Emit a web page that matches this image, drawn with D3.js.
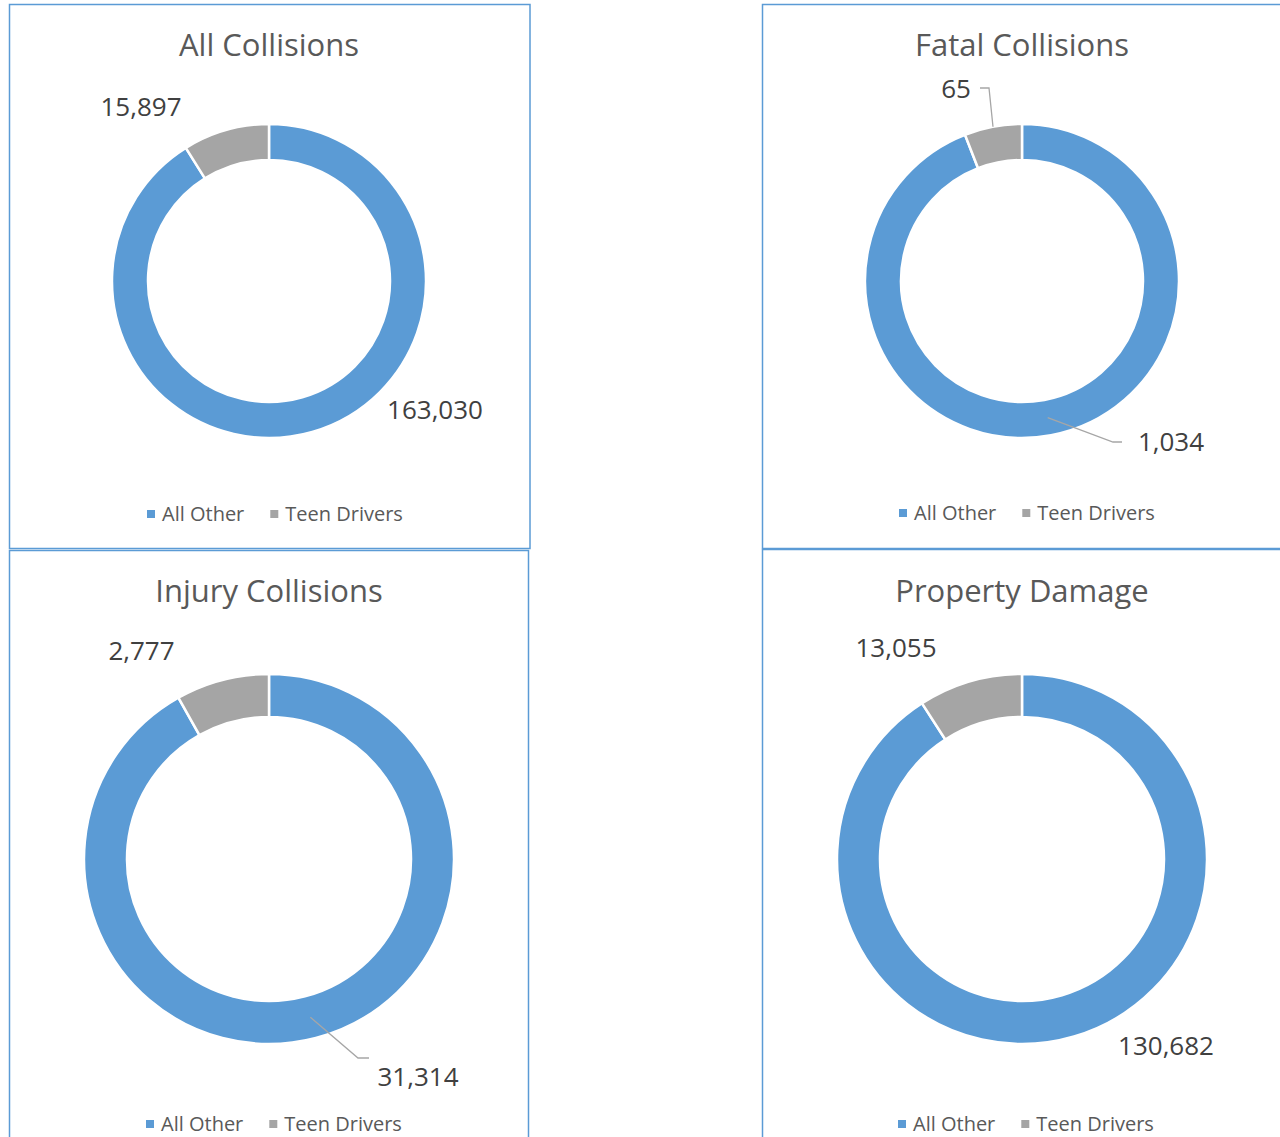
<!DOCTYPE html>
<html>
<head>
<meta charset="utf-8">
<script src="https://cdn.jsdelivr.net/npm/d3@7"></script>
<style>
    html, body { margin: 0; padding: 0; background: #fff; }
    svg { display: block; font-family: "Open Sans", sans-serif; }
    .chart-title { fill: #595959; font-size: 31px; }
    .data-label { fill: #404040; font-size: 26px; }
    .legend-text { fill: #595959; font-size: 20px; }
    .leader { fill: none; stroke: #a6a6a6; stroke-width: 1.3; }
</style>
</head>
<body>
<div id="chart"></div>
<script>
// data
var chartTitles = ["All Collisions", "Fatal Collisions", "Injury Collisions", "Property Damage"];
var categories = ["All Other", "Teen Drivers"];
var allOther = [163030, 1034, 31314, 130682];
var teenDrivers = [15897, 65, 2777, 13055];

var COLOURS = ["#5b9bd5", "#a5a5a5"];
var BORDER = "#5b9bd5";

var width = 1280,
    height = 1137;

// layout of each panel (frame, donut centre / radii, label offsets from centre)
var panels = [
    {x: 9.5, y: 4.5, w: 520.5, h: 544, cx: 269, cy: 281, outer: 157, inner: 121,
        titleY: 56, legendY: 514, legendX: 147,
        labels: [{dx: 166, dy: 129}, {dx: -128, dy: -174}]},
    {x: 762.5, y: 4.5, w: 540, h: 544, cx: 1022, cy: 281, outer: 157, inner: 121,
        titleY: 56, legendY: 513, legendX: 899,
        labels: [{dx: 149, dy: 161, leader: {r: 0.5, elbow: [91, 161], end: [100, 161]}},
                 {dx: -66, dy: -192, leader: {r: 1, elbow: [-33, -193], end: [-42, -193]}}]},
    {x: 9.5, y: 550.5, w: 519, h: 600, cx: 269, cy: 859, outer: 185, inner: 142,
        titleY: 602, legendY: 1124, legendX: 146,
        labels: [{dx: 149, dy: 218, leader: {r: 0.5, elbow: [89, 199], end: [100, 199]}},
                 {dx: -127.5, dy: -208}]},
    {x: 762.5, y: 549.5, w: 540, h: 600, cx: 1022, cy: 859, outer: 185, inner: 142,
        titleY: 602, legendY: 1124, legendX: 898,
        labels: [{dx: 144, dy: 187}, {dx: -126, dy: -211}]}
];

var colour = d3.scaleOrdinal()
    .domain(categories)
    .range(COLOURS);

var fmt = d3.format(",");

var pie = d3.pie()
    .sort(null)
    .value(function (d) { return d.value; });

var svg = d3.select("#chart")
    .append("svg")
    .attr("width", width)
    .attr("height", height);

panels.forEach(function (p, i) {
    var rows = categories.map(function (c, k) {
        return {name: c, value: k === 0 ? allOther[i] : teenDrivers[i]};
    });

    var g = svg.append("g").attr("class", "panel");

    g.append("rect")
        .attr("x", p.x)
        .attr("y", p.y)
        .attr("width", p.w)
        .attr("height", p.h)
        .attr("fill", "#fff")
        .attr("stroke", BORDER)
        .attr("stroke-width", 1.5);

    g.append("text")
        .attr("class", "chart-title")
        .attr("x", p.cx)
        .attr("y", p.titleY)
        .attr("text-anchor", "middle")
        .text(chartTitles[i]);

    var arc = d3.arc()
        .innerRadius(p.inner)
        .outerRadius(p.outer);

    var donut = g.append("g")
        .attr("transform", "translate(" + p.cx + "," + p.cy + ")");

    var arcs = pie(rows);

    donut.selectAll("path")
        .data(arcs)
        .enter().append("path")
        .attr("d", arc)
        .attr("fill", function (d) { return colour(d.data.name); })
        .attr("stroke", "#fff")
        .attr("stroke-width", 2.5);

    arcs.forEach(function (a, k) {
        var lab = p.labels[k];
        if (lab.leader) {
            var mid = (a.startAngle + a.endAngle) / 2;
            var r = lab.leader.r === 1 ? p.outer : (p.inner + p.outer) / 2;
            var sx = r * Math.sin(mid),
                sy = -r * Math.cos(mid);
            donut.append("polyline")
                .attr("class", "leader")
                .attr("points", [[sx, sy], lab.leader.elbow, lab.leader.end].map(function (pt) {
                    return pt[0] + "," + pt[1];
                }).join(" "));
        }
        donut.append("text")
            .attr("class", "data-label")
            .attr("x", lab.dx)
            .attr("y", lab.dy)
            .attr("dy", "0.36em")
            .attr("text-anchor", "middle")
            .text(fmt(a.data.value));
    });

    // legend
    var legend = g.append("g")
        .attr("transform", "translate(" + p.legendX + "," + p.legendY + ")");
    var lx = 0;
    categories.forEach(function (c) {
        legend.append("rect")
            .attr("x", lx)
            .attr("y", -4)
            .attr("width", 8)
            .attr("height", 8)
            .attr("fill", colour(c));
        var t = legend.append("text")
            .attr("class", "legend-text")
            .attr("x", lx + 15)
            .attr("dy", "0.36em")
            .text(c);
        lx += 15 + t.node().getComputedTextLength() + 26;
    });
});
</script>
</body>
</html>
